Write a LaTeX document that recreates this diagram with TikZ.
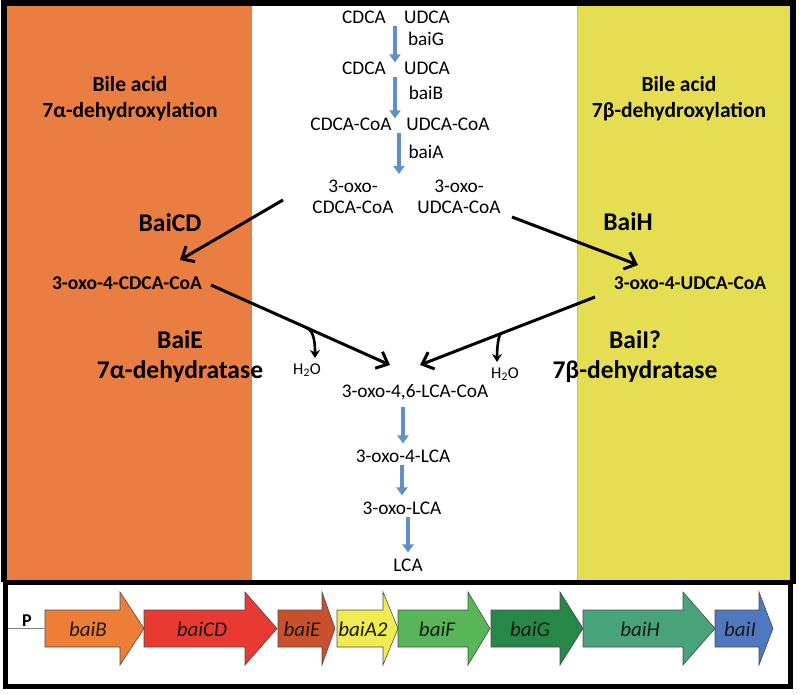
\documentclass[tikz,border=0pt]{standalone}
\usepackage{fontspec}
\setmainfont{Carlito}
\usetikzlibrary{calc}
\usetikzlibrary{arrows.meta}
\definecolor{panelorange}{RGB}{234,125,65}
\definecolor{panelyellow}{RGB}{230,222,82}
\definecolor{flowblue}{RGB}{95,145,200}
\definecolor{geneB}{RGB}{238,125,55}
\definecolor{geneCD}{RGB}{232,58,50}
\definecolor{geneE}{RGB}{200,80,45}
\definecolor{geneA}{RGB}{240,235,80}
\definecolor{geneF}{RGB}{88,182,88}
\definecolor{geneG}{RGB}{38,135,70}
\definecolor{geneH}{RGB}{72,162,122}
\definecolor{geneI}{RGB}{80,120,190}

\begin{document}
\begin{tikzpicture}[x=1pt,y=-1pt,
    met/.style={font=\fontsize{19.3}{21}\selectfont, inner sep=2pt, align=center},
    title/.style={font=\bfseries\fontsize{21.5}{26}\selectfont, align=center},
    big/.style={font=\bfseries\fontsize{25.5}{30}\selectfont, align=center},
    inter/.style={font=\bfseries\fontsize{19.5}{21}\selectfont},
    water/.style={font=\fontsize{16.5}{18}\selectfont, inner sep=1pt},
    flow/.style={flowblue, line width=3.5pt, -{Triangle[length=8pt,width=11pt]}},
    rxn/.style={line width=3pt, -{Straight Barb[length=10pt,width=18pt]}},
    loss/.style={line width=2.6pt, -{Stealth[length=8pt,width=10pt]}},
    gene/.style={draw=black!70, line width=0.6pt},
    genelabel/.style={font=\itshape\fontsize{21}{24}\selectfont, text=black!90, inner sep=0pt}
]
    \useasboundingbox (0,0) rectangle (800,694);

    % Draw the two coloured panels
    \fill[panelorange] (7,5) rectangle (252,580);
    \fill[panelyellow] (577,5) rectangle (790,580);
    \draw[brown!60, line width=0.8pt] (577,5) -- (577,580);

    % Draw frames
    \draw[line width=6pt] (4,582) -- (4,3) -- (793,3) -- (793,584);
    \draw[line width=5pt] (5,582) rectangle (790,686);

    % Panel labels
    \node[title] (lefttitle) at (130,99) {Bile acid\\7α-dehydroxylation};
    \node[title] (righttitle) at (679,99) {Bile acid\\7β-dehydroxylation};
    \node[big] (baicd) at (170,223) {BaiCD};
    \node[big] (baih) at (628,222) {BaiH};
    \node[big] (baie) at (180,357) {BaiE\\7α-dehydratase};
    \node[big] (baii) at (635,357) {BaiI?\\7β-dehydratase};

    % Upper pathway
    \node[met] (c1) at (364,17) {CDCA};
    \node[met] (u1) at (427,17) {UDCA};
    \node[met] (eG) at (426,39) {baiG};
    \node[met] (c2) at (364,68) {CDCA};
    \node[met] (u2) at (427,68) {UDCA};
    \node[met] (eB) at (426,93) {baiB};
    \node[met] (c3) at (351,124) {CDCA-CoA};
    \node[met] (u3) at (448,124) {UDCA-CoA};
    \node[met] (eA) at (426,152) {baiA};
    \node[met] (ocdca) at (353,197) {3-oxo-\\CDCA-CoA};
    \node[met] (oudca) at (459,197) {3-oxo-\\UDCA-CoA};

    \coordinate (s1) at ($(c1.south east)!.5!(u1.south west)$);
    \coordinate (s2) at ($(c2.south east)!.5!(u2.south west)$);
    \coordinate (s3) at ($(c3.south east)!.5!(u3.south west)$);
    \draw[flow, shorten >=-3pt] (s1) -- (s1 |- c2.north);
    \draw[flow, shorten >=-3pt] (s2) -- (s2 |- c3.north);
    \draw[flow, shorten >=4pt] (s3) -- (s3 |- ocdca.north);

    % Intermediates
    \node[inter] (cdca4) at (127,283) {3-oxo-4-CDCA-CoA};
    \node[inter] (udca4) at (690,283) {3-oxo-4-UDCA-CoA};

    % Lower pathway
    \node[met] (lca46) at (415,392) {3-oxo-4,6-LCA-CoA};
    \node[met] (lca4) at (403,456) {3-oxo-4-LCA};
    \node[met] (lca3) at (402,508) {3-oxo-LCA};
    \node[met] (lca) at (408,565) {LCA};
    \node[water] (w1) at (307,370) {H\textsubscript{2}O};
    \node[water] (w2) at (505,374) {H\textsubscript{2}O};

    \draw[flow, shorten <=5pt, shorten >=4pt] (lca4.north |- lca46.south) -- (lca4.north);
    \draw[flow, shorten >=4pt] (lca3.north |- lca4.south) -- (lca3.north);
    \draw[flow, shorten >=4pt] (lca.north |- lca3.south) -- (lca.north);

    % Reactions
    \draw[rxn] ([shift={(-70,3)}]ocdca.center) -- ([shift={(53,-23)}]cdca4.center);
    \draw[rxn] ([shift={(53,20)}]oudca.center) -- ([shift={(-52,-18)}]udca4.center);
    \draw[rxn] ([shift={(84,2)}]cdca4.center) -- coordinate[pos=0.53] (h1) ([shift={(-25,-27)}]lca46.center);
    \draw[rxn] ([shift={(-95,14)}]udca4.center) -- coordinate[pos=0.54] (h2) ([shift={(5,-27)}]lca46.center);
    \draw[loss] (h1) .. controls +(9,3) and +(0,-12) .. ([shift={(8,-12)}]w1.center);
    \draw[loss] (h2) .. controls +(-3,5) and +(0,-10) .. ([shift={(-8,-12)}]w2.center);

    % Gene cluster
    \foreach \xa/\xb/\xc/\col/\lx/\name in {45/120/144/geneB/88/baiB, 144/245/277/geneCD/202/baiCD,
        278/322/335/geneE/302/baiE, 337/383/398/geneA/363/baiA2, 398/468/490/geneF/437/baiF,
        491/560/583/geneG/530/baiG, 583/683/715/geneH/640/baiH, 715/759/773/geneI/740/baiI} {
        \draw[gene, fill=\col] (\xa,610) -- (\xb,610) -- (\xb,592) -- (\xc,628.5) -- (\xb,665) -- (\xb,647) -- (\xa,647) -- cycle;
        \coordinate (\name-start) at (\xa,628.5);
        \node[genelabel] (\name) at (\lx,629) {\name};
    }
    \node[font=\bfseries\fontsize{18}{18}\selectfont, inner sep=0pt] (prom) at (27,621) {P};
    \coordinate (pstart) at (8,628.5);
    \draw[gray, line width=0.8pt] (pstart) -- (baiB-start);
\end{tikzpicture}
\end{document}
